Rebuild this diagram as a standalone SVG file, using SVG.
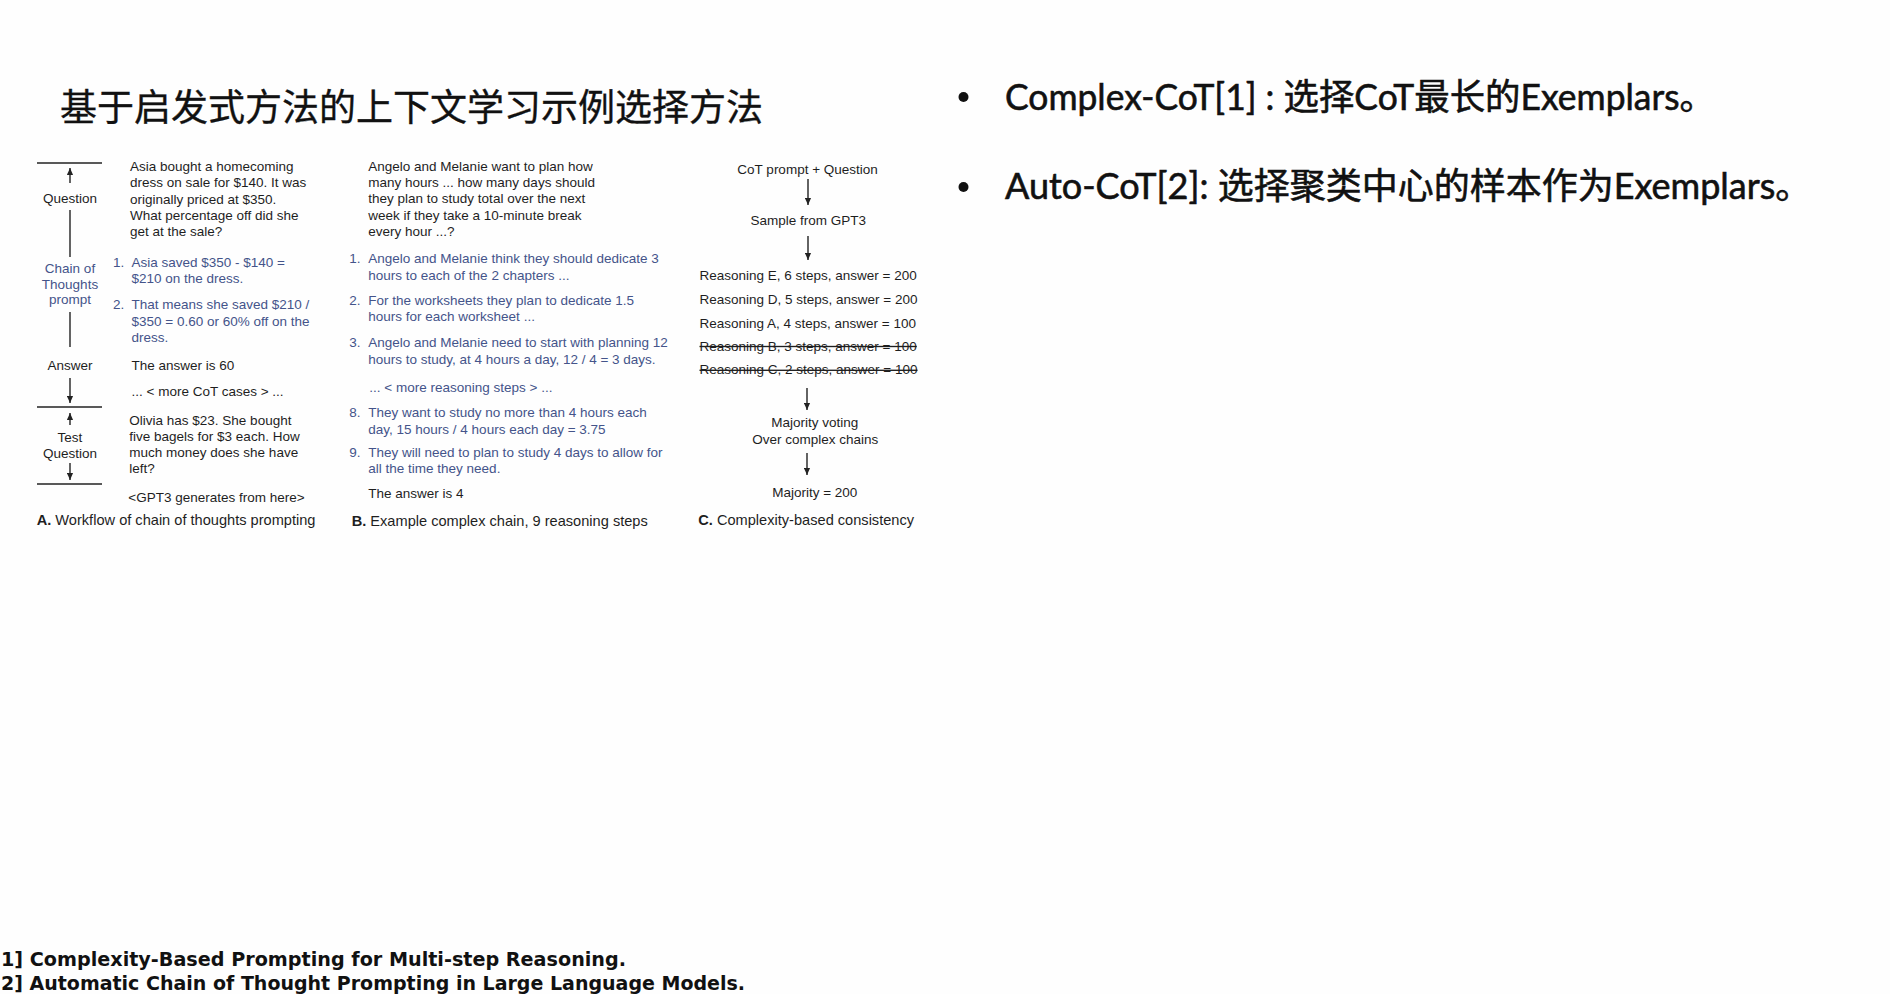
<svg xmlns="http://www.w3.org/2000/svg" width="1890" height="994" viewBox="0 0 1890 994">
  <style>
    .t { font-family: "Liberation Sans", Arial, sans-serif; font-size: 13.5px; fill: #1e1e1e; }
    .cap { font-size: 14.6px; }
    .blue { fill: #44548a; }
    .mid { text-anchor: middle; }
    .bold { font-weight: bold; }
    .strike { text-decoration: line-through; }
    .rule { stroke: #222; stroke-width: 1.4; fill: none; }
    .title { font-family: "Noto Sans CJK SC", "Noto Sans", sans-serif; font-size: 37px; fill: #111; stroke: #111; stroke-width: 0.35; }
    .bullet { font-family: "Lato", "Noto Sans CJK SC", sans-serif; font-size: 36px; fill: #111; stroke: #111; stroke-width: 0.6; }
    .ref { font-family: "DejaVu Sans", "Liberation Sans", sans-serif; font-size: 20px; font-weight: bold; fill: #111; }
  </style>
  <defs>
    <marker id="ah" viewBox="0 0 8 8" refX="8" refY="4" markerWidth="7" markerHeight="7" markerUnits="userSpaceOnUse" orient="auto">
      <path d="M0,0.5 L8,4 L0,7.5 z" fill="#222"/>
    </marker>
  </defs>

  <rect width="1890" height="994" fill="#fefefe"/>

  <!-- heading -->
  <g id="title">
    <text class="title" x="60" y="121">基于启发式方法的上下文学习示例选择方法</text>
  </g>

  <!-- panel A: workflow of chain-of-thought prompting -->
  <g id="panel-a">
    <g id="a-rail">
      <line class="rule" x1="37" y1="163" x2="102" y2="163"/>
      <line class="rule" x1="70" y1="183" x2="70" y2="168" marker-end="url(#ah)"/>
      <text class="t mid" x="70" y="203">Question</text>
      <line class="rule" x1="70" y1="210" x2="70" y2="257"/>
      <text class="t mid blue" x="70" y="272.5">Chain of</text>
      <text class="t mid blue" x="70" y="289">Thoughts</text>
      <text class="t mid blue" x="70" y="304">prompt</text>
      <line class="rule" x1="70" y1="312" x2="70" y2="347"/>
      <text class="t mid" x="70" y="370">Answer</text>
      <line class="rule" x1="70" y1="378" x2="70" y2="403" marker-end="url(#ah)"/>
      <line class="rule" x1="37" y1="407" x2="102" y2="407"/>
      <line class="rule" x1="70" y1="425" x2="70" y2="413" marker-end="url(#ah)"/>
      <text class="t mid" x="70" y="441.5">Test</text>
      <text class="t mid" x="70" y="458">Question</text>
      <line class="rule" x1="70" y1="463" x2="70" y2="480" marker-end="url(#ah)"/>
      <line class="rule" x1="37" y1="484" x2="102" y2="484"/>
    </g>
    <g id="a-question">
      <text class="t" x="130" y="171">Asia bought a homecoming</text>
      <text class="t" x="130" y="187">dress on sale for $140. It was</text>
      <text class="t" x="130" y="203.5">originally priced at $350.</text>
      <text class="t" x="130" y="220">What percentage off did she</text>
      <text class="t" x="130" y="236">get at the sale?</text>
    </g>
    <g id="a-chain">
      <text class="t blue" x="113" y="266.7">1.</text>
      <text class="t blue" x="131.5" y="266.7">Asia saved $350 - $140 =</text>
      <text class="t blue" x="131.5" y="283.3">$210 on the dress.</text>
      <text class="t blue" x="113" y="309.3">2.</text>
      <text class="t blue" x="131.5" y="309.3">That means she saved $210 /</text>
      <text class="t blue" x="131.5" y="326">$350 = 0.60 or 60% off on the</text>
      <text class="t blue" x="131.5" y="342">dress.</text>
    </g>
    <g id="a-answer">
      <text class="t" x="131.5" y="370">The answer is 60</text>
      <text class="t" x="131.5" y="396">...  &lt; more CoT cases &gt; ...</text>
    </g>
    <g id="a-test">
      <text class="t" x="129.3" y="425">Olivia has $23. She bought</text>
      <text class="t" x="129.3" y="441">five bagels for $3 each. How</text>
      <text class="t" x="129.3" y="457.3">much money does she have</text>
      <text class="t" x="129.3" y="473">left?</text>
      <text class="t" x="128.3" y="501.7">&lt;GPT3 generates from here&gt;</text>
    </g>
    <text class="t cap" x="36.7" y="525"><tspan class="bold">A.</tspan> Workflow of chain of thoughts prompting</text>
  </g>

  <!-- panel B: a complex reasoning chain -->
  <g id="panel-b">
    <g id="b-question">
      <text class="t" x="368.3" y="170.7">Angelo and Melanie want to plan how</text>
      <text class="t" x="368.3" y="187">many hours ... how many days should</text>
      <text class="t" x="368.3" y="203.3">they plan to study total over the next</text>
      <text class="t" x="368.3" y="220">week if they take a 10-minute break</text>
      <text class="t" x="368.3" y="236">every hour ...?</text>
    </g>
    <g id="b-steps">
      <text class="t blue" x="349.3" y="263.3">1.</text>
      <text class="t blue" x="368.3" y="263.3">Angelo and Melanie think they should dedicate 3</text>
      <text class="t blue" x="368.3" y="279.5">hours to each of the 2 chapters ...</text>
      <text class="t blue" x="349.3" y="305">2.</text>
      <text class="t blue" x="368.3" y="305">For the worksheets they plan to dedicate 1.5</text>
      <text class="t blue" x="368.3" y="321">hours for each worksheet ...</text>
      <text class="t blue" x="349.3" y="347">3.</text>
      <text class="t blue" x="368.3" y="347">Angelo and Melanie need to start with planning 12</text>
      <text class="t blue" x="368.3" y="364">hours to study, at 4 hours a day, 12 / 4 = 3 days.</text>
      <text class="t blue" x="369.3" y="392.3">... &lt; more reasoning steps &gt; ...</text>
      <text class="t blue" x="349.3" y="417.3">8.</text>
      <text class="t blue" x="368.3" y="417.3">They want to study no more than 4 hours each</text>
      <text class="t blue" x="368.3" y="433.5">day, 15 hours / 4 hours each day = 3.75</text>
      <text class="t blue" x="349.3" y="456.7">9.</text>
      <text class="t blue" x="368.3" y="456.7">They will need to plan to study 4 days to allow for</text>
      <text class="t blue" x="368.3" y="473.3">all the time they need.</text>
    </g>
    <text class="t" x="368.3" y="498.3">The answer is 4</text>
    <text class="t cap" x="351.7" y="525.5"><tspan class="bold">B.</tspan> Example complex chain, 9 reasoning steps</text>
  </g>

  <!-- panel C: complexity-based consistency -->
  <g id="c-prompt">
    <text class="t mid" x="807.6" y="174">CoT prompt + Question</text>
  </g>
  <g id="c-sample">
    <text class="t mid" x="808.2" y="225">Sample from GPT3</text>
  </g>
  <g id="c-chains">
    <text class="t" x="699.5" y="280">Reasoning E, 6 steps, answer = 200</text>
    <text class="t" x="699.5" y="304">Reasoning D, 5 steps, answer = 200</text>
    <text class="t" x="699.5" y="327.7">Reasoning A, 4 steps, answer = 100</text>
    <text class="t strike" x="699.5" y="350.5">Reasoning B, 3 steps, answer = 100</text>
    <text class="t strike" x="699.5" y="374.3">Reasoning C, 2 steps, answer = 100</text>
  </g>
  <g id="c-vote">
    <text class="t mid" x="814.8" y="427.3">Majority voting</text>
    <text class="t mid" x="815.2" y="444">Over complex chains</text>
  </g>
  <g id="c-result">
    <text class="t mid" x="814.8" y="496.7">Majority = 200</text>
  </g>
  <g id="c-caption">
    <text class="t cap" x="698.3" y="525"><tspan class="bold">C.</tspan> Complexity-based consistency</text>
  </g>

  <g id="connectors">
    <line class="rule" x1="808" y1="179" x2="808" y2="205" marker-end="url(#ah)"/>
    <line class="rule" x1="808" y1="236" x2="808" y2="260" marker-end="url(#ah)"/>
    <line class="rule" x1="807" y1="388" x2="807" y2="410" marker-end="url(#ah)"/>
    <line class="rule" x1="807" y1="453" x2="807" y2="475" marker-end="url(#ah)"/>
  </g>

  <!-- method list -->
  <g id="bullet-complex-cot">
    <circle cx="963.5" cy="97" r="5" fill="#111"/>
    <text class="bullet" x="1005" y="110" textLength="710" lengthAdjust="spacingAndGlyphs">Complex-CoT[1] : 选择CoT最长的Exemplars。</text>
  </g>
  <g id="bullet-auto-cot">
    <circle cx="963.5" cy="187" r="5" fill="#111"/>
    <text class="bullet" x="1005" y="198.5">Auto-CoT[2]: 选择聚类中心的样本作为Exemplars。</text>
  </g>

  <!-- references -->
  <g id="references">
    <text class="ref" x="1" y="966" textLength="625" lengthAdjust="spacingAndGlyphs">1] Complexity-Based Prompting for Multi-step Reasoning.</text>
    <text class="ref" x="1" y="989.5" textLength="744" lengthAdjust="spacingAndGlyphs">2] Automatic Chain of Thought Prompting in Large Language Models.</text>
  </g>
</svg>
